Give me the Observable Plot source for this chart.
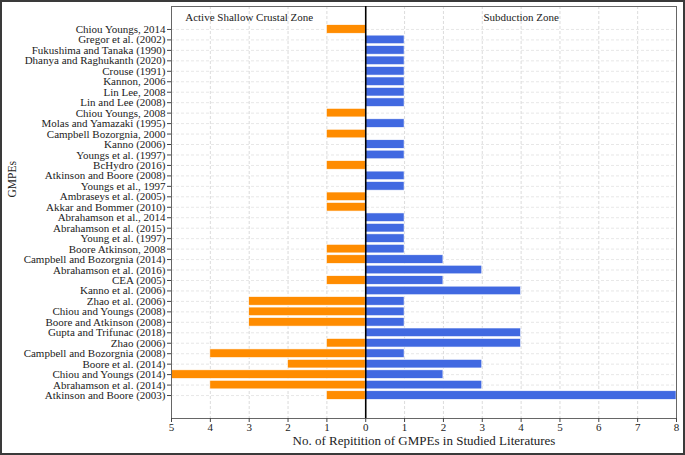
<!DOCTYPE html>
<html>
<head>
<meta charset="utf-8">
<script src="https://cdn.jsdelivr.net/npm/d3@7"></script>
<script src="https://cdn.jsdelivr.net/npm/@observablehq/plot@0.6"></script>
<style>
  html, body { margin: 0; padding: 0; background: #fff; }
  #wrap { position: relative; width: 685px; height: 455px; overflow: hidden; }
  #border { position: absolute; left: 0; top: 0; width: 685px; height: 455px; box-sizing: border-box; border: 2px solid #3a3a3a; pointer-events: none; }
  svg { font-family: "Liberation Serif", "Times New Roman", serif; }
</style>
</head>
<body>
<div id="wrap"><div id="chart"></div><div id="border"></div></div>
<script>
const gmpes = [
  "Chiou Youngs, 2014", "Gregor et al. (2002)", "Fukushima and Tanaka (1990)",
  "Dhanya and Raghukanth (2020)", "Crouse (1991)", "Kannon, 2006", "Lin Lee, 2008",
  "Lin and Lee (2008)", "Chiou Youngs, 2008", "Molas and Yamazaki (1995)",
  "Campbell Bozorgnia, 2000", "Kanno (2006)", "Youngs et al. (1997)", "BcHydro (2016)",
  "Atkinson and Boore (2008)", "Youngs et al., 1997", "Ambraseys et al. (2005)",
  "Akkar and Bommer (2010)", "Abrahamson et al., 2014", "Abrahamson et al. (2015)",
  "Young et al. (1997)", "Boore Atkinson, 2008", "Campbell and Bozorgnia (2014)",
  "Abrahamson et al. (2016)", "CEA (2005)", "Kanno et al. (2006)", "Zhao et al. (2006)",
  "Chiou and Youngs (2008)", "Boore and Atkinson (2008)", "Gupta and Trifunac (2018)",
  "Zhao (2006)", "Campbell and Bozorgnia (2008)", "Boore et al. (2014)",
  "Chiou and Youngs (2014)", "Abrahamson et al. (2014)", "Atkinson and Boore (2003)"
];
const crustal = [1,0,0,0,0,0,0,0,1,0,1,0,0,1,0,0,1,1,0,0,0,1,1,0,1,0,3,3,3,0,1,4,2,5,4,1];
const subduction = [0,1,1,1,1,1,1,1,0,1,0,1,1,0,1,1,0,0,1,1,1,1,2,3,2,4,1,1,1,4,4,1,3,2,3,8];
const xTicks = [-5,-4,-3,-2,-1,0,1,2,3,4,5,6,7,8];
const zoneTitles = ["Active Shallow Crustal Zone", "Subduction Zone"];
const zoneTitleX = [-3, 4];

const crustalRows = gmpes.map((g, i) => ({g, v: -crustal[i]})).filter(d => d.v !== 0);
const subRows = gmpes.map((g, i) => ({g, v: subduction[i]})).filter(d => d.v !== 0);
const titles = zoneTitles.map((t, i) => ({t, x: zoneTitleX[i]}));

const chart = Plot.plot({
  width: 685,
  height: 455,
  marginLeft: 171,
  marginRight: 9,
  marginTop: 6,
  marginBottom: 37,
  style: {fontFamily: "Liberation Serif, serif", fontSize: "11px", color: "#222", background: "transparent"},
  x: {domain: [-5, 8], label: null},
  y: {domain: gmpes, paddingInner: 0.18, paddingOuter: 1.785, round: false, label: null},
  marks: [
    Plot.gridX(xTicks.filter(t => t !== 0 && t !== -5 && t !== 8), {stroke: "#ccc", strokeOpacity: 1, strokeDasharray: "3,2", strokeWidth: 0.7}),
    Plot.gridY({stroke: "#ddd", strokeOpacity: 1, strokeDasharray: "3,2", strokeWidth: 0.7}),
    Plot.barX(crustalRows, {x1: 0, x2: "v", y: "g", fill: "#FF8C00", stroke: "#fff", strokeWidth: 0.6}),
    Plot.barX(subRows, {x1: 0, x2: "v", y: "g", fill: "#4169E1", stroke: "#fff", strokeWidth: 0.6}),
    Plot.frame({stroke: "#666", strokeWidth: 1}),
    Plot.ruleY([0], {frameAnchor: "left"}),
    Plot.ruleX([0], {stroke: "#000", strokeWidth: 1.6}),
    Plot.axisX({ticks: xTicks, tickFormat: d => Math.abs(d), tickSize: 4, tickPadding: 1, fontSize: 11, stroke: "#444", label: null}),
    Plot.axisY({tickSize: 4, tickPadding: 2, fontSize: 11, stroke: "#444", label: null}),
    Plot.text(titles, {x: "x", text: "t", frameAnchor: "top", dy: 7, fontSize: 11, fill: "#222"}),
    Plot.text(["No. of Repitition of GMPEs in Studied Literatures"], {frameAnchor: "bottom", dy: 26, fontSize: 13, fill: "#222"}),
    Plot.text(["GMPEs"], {frameAnchor: "left", rotate: -90, dx: -159, dy: -15, fontSize: 11.5, fill: "#222"})
  ]
});
document.getElementById("chart").appendChild(chart);
</script>
</body>
</html>
